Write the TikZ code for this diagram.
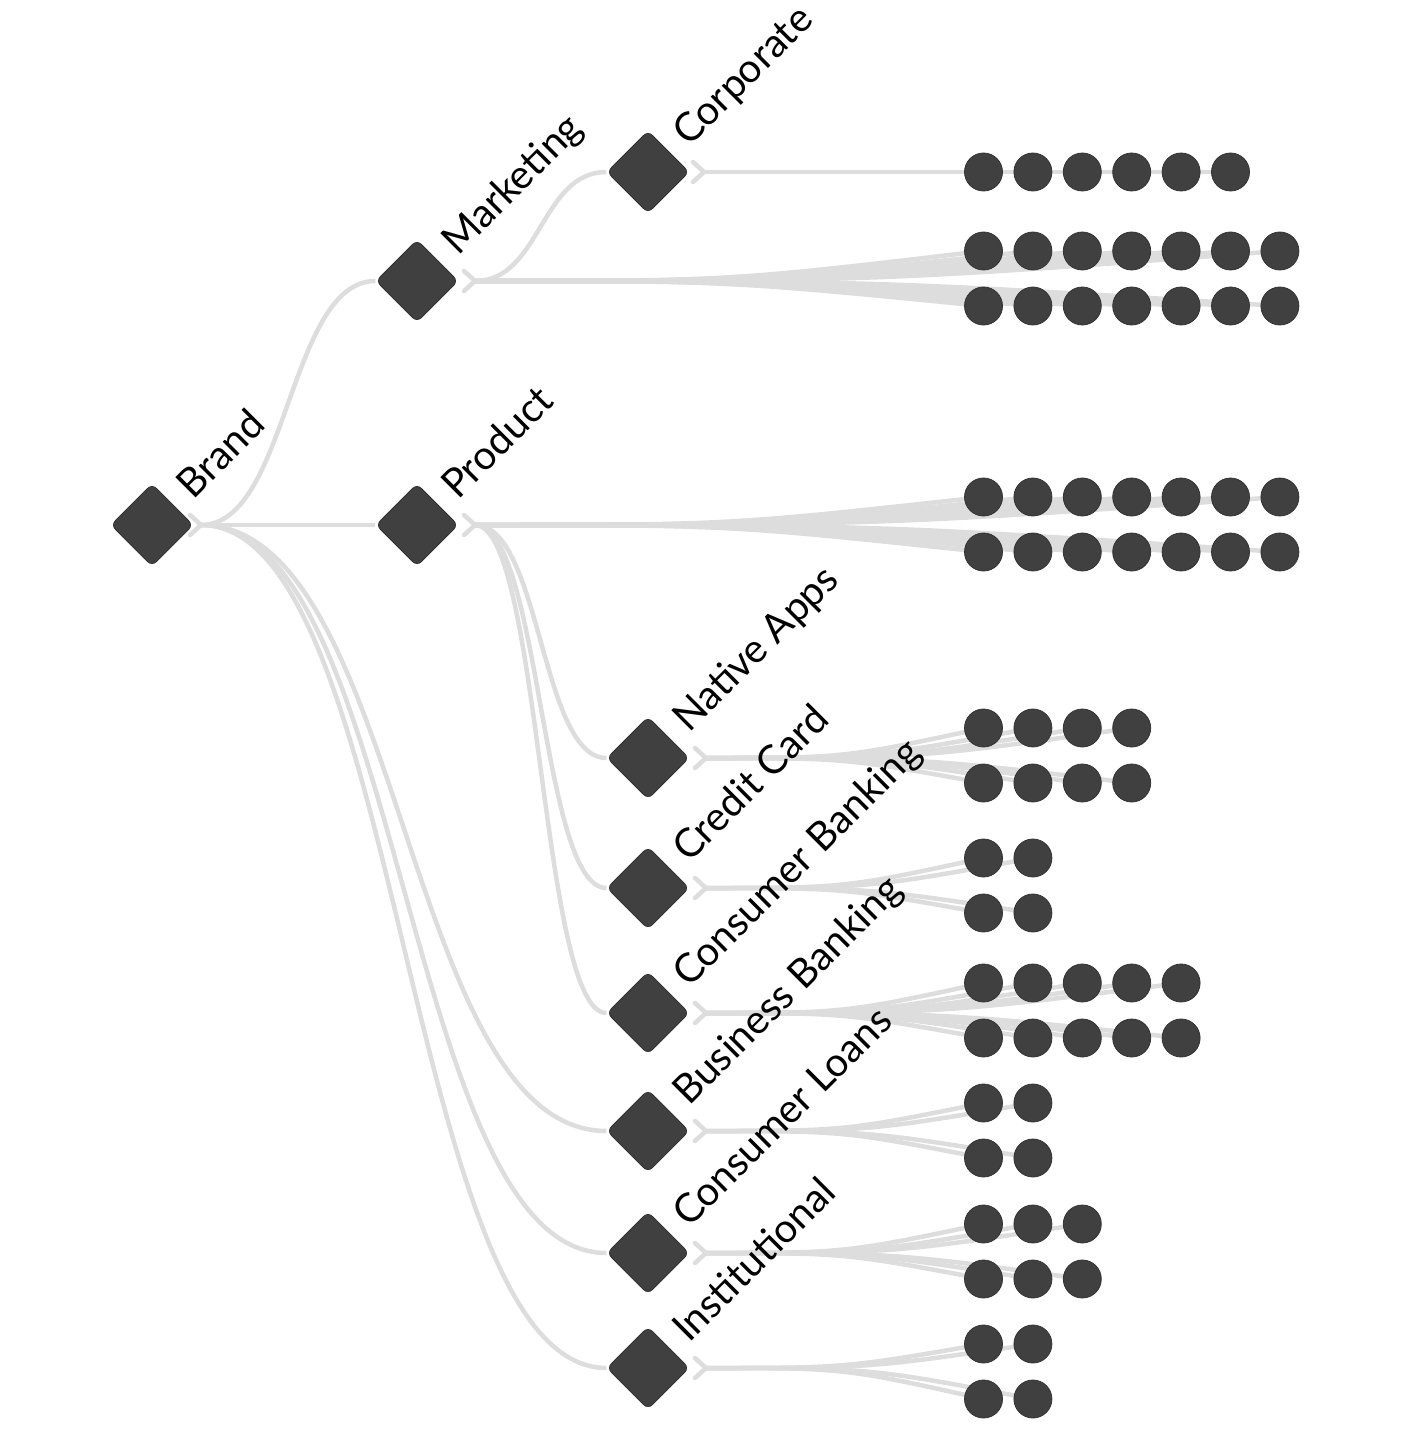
\documentclass[tikz,border=0pt]{standalone}
\usepackage{fontspec}
\setmainfont{Lato}
\usetikzlibrary{calc, backgrounds}

\definecolor{ink}{HTML}{404040}
\definecolor{inkline}{HTML}{333333}
\definecolor{wire}{HTML}{DDDDDD}

% horizontal tree link (tangents flat at both ends)
\newcommand{\treelink}[2]{%
  \draw[link] let \p1=(#1), \p2=(#2) in
    (\p1) .. controls ({(\x1+\x2)/2},\y1) and ({(\x1+\x2)/2},\y2) .. (\p2);%
}
% fan link to a leaf (flat only at the fork)
\newcommand{\leaflink}[2]{%
  \draw[link] let \p1=(#1), \p2=(#2) in
    (\p1) .. controls ({(\x1+\x2)/2},\y1) .. (\p2);%
}

\begin{document}
\begin{tikzpicture}[
  x=1pt, y=-1pt,
  % Node styles
  topic/.style={rectangle, rounded corners=6pt, rotate=45, minimum size=58pt, inner sep=0pt, fill=ink, draw=inkline, line width=0.8pt},
  leaf/.style={circle, minimum size=38pt, inner sep=0pt, fill=ink, draw=inkline, line width=0.8pt},
  lbl/.style={rotate=45, anchor=base west, inner sep=0pt, font=\fontsize{40}{46}\selectfont},
  % Edge styles
  link/.style={line width=4.5pt, draw=wire},
  forkmark/.style={line width=4.5pt, draw=wire, line cap=round, line join=round}
]
\useasboundingbox (0,0) rectangle (1400,1431);

% ------------------------------------------------------------
% Topic nodes (rotated rounded squares)
% ------------------------------------------------------------
\node[topic] (brand) at (152,525)  {};
\node[topic] (mkt)   at (417,281)  {};
\node[topic] (prod)  at (417,525)  {};
\node[topic] (corp)  at (648,172)  {};
\node[topic] (nat)   at (648,758)  {};
\node[topic] (cc)    at (648,888)  {};
\node[topic] (cb)    at (648,1013) {};
\node[topic] (bb)    at (648,1131) {};
\node[topic] (cl)    at (648,1253) {};
\node[topic] (inst)  at (648,1368) {};

% Labels (slanted)
\node[lbl] (brand-name) at ($(brand)+(41,-24)$) {Brand};
\node[lbl] (mkt-name)   at ($(mkt)+(41,-24)$)   {Marketing};
\node[lbl] (prod-name)  at ($(prod)+(41,-24)$)  {Product};
\node[lbl] (corp-name)  at ($(corp)+(41,-24)$)  {Corporate};
\node[lbl] (nat-name)   at ($(nat)+(41,-24)$)   {Native Apps};
\node[lbl] (cc-name)    at ($(cc)+(41,-24)$)    {Credit Card};
\node[lbl] (cb-name)    at ($(cb)+(41,-24)$)    {Consumer Banking};
\node[lbl] (bb-name)    at ($(bb)+(41,-24)$)    {Business Banking};
\node[lbl] (cl-name)    at ($(cl)+(41,-24)$)    {Consumer Loans};
\node[lbl] (inst-name)  at ($(inst)+(41,-24)$)  {Institutional};

% Fork points just right of each topic
\foreach \p/\d in {brand/49, mkt/58, prod/58, corp/56, nat/58, cc/58, cb/58, bb/58, cl/58, inst/58}
  \coordinate (\p-fork) at ($(\p)+(\d,0)$);

% ------------------------------------------------------------
% Tree links
% ------------------------------------------------------------
\begin{scope}[on background layer]
  \treelink{brand-fork}{mkt.north west}
  \treelink{brand-fork}{prod.north west}
  \treelink{brand-fork}{bb.north west}
  \treelink{brand-fork}{cl.north west}
  \treelink{brand-fork}{inst.north west}
  \treelink{mkt-fork}{corp.north west}
  \treelink{prod-fork}{nat.north west}
  \treelink{prod-fork}{cc.north west}
  \treelink{prod-fork}{cb.north west}

  \foreach \p in {brand, mkt, prod, corp, nat, cc, cb, bb, cl, inst}
    \draw[forkmark] ($(\p-fork)+(-11,-10)$) -- (\p-fork) -- ($(\p-fork)+(-11,10)$);
\end{scope}

% ------------------------------------------------------------
% Leaf rows: parent / row / y / count
% ------------------------------------------------------------
\foreach \g/\r/\y/\n in {corp/1/172/6, mkt/1/251/7, mkt/2/306/7,
    prod/1/497/7, prod/2/552/7, nat/1/728/4, nat/2/783/4,
    cc/1/858/2, cc/2/913/2, cb/1/983/5, cb/2/1038/5,
    bb/1/1103/2, bb/2/1158/2, cl/1/1224/3, cl/2/1279/3,
    inst/1/1344/2, inst/2/1399/2}{
  \foreach \i in {1,...,\n}{
    \node[leaf] (\g-\r-\i) at ({983.5+49.4*(\i-1)},\y) {};
    \begin{scope}[on background layer]
      \leaflink{\g-fork}{\g-\r-\i}
    \end{scope}
  }
}

\end{tikzpicture}
\end{document}
